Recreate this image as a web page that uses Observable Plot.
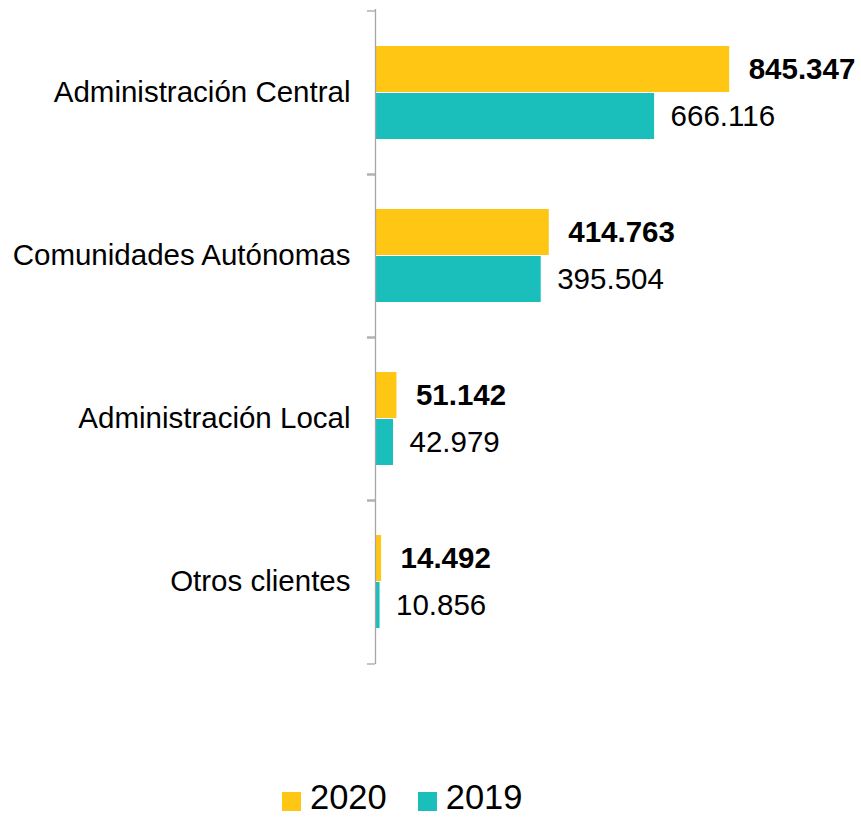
<!DOCTYPE html>
<html>
<head>
<meta charset="utf-8">
<script src="https://cdn.jsdelivr.net/npm/d3@7"></script>
<script src="https://cdn.jsdelivr.net/npm/@observablehq/plot@0.6"></script>
<style>
  html, body { margin: 0; padding: 0; background: #fff; }
  body { width: 861px; height: 817px; overflow: hidden; font-family: "Liberation Sans", Arial, sans-serif; }
  #legend { display: flex; align-items: center; margin-left: 282px; padding-top: 46px; font-size: 34.5px; line-height: 30px; color: #000; }
  .sw { width: 19px; height: 19px; display: inline-block; margin-right: 9px; }
  .item { display: flex; align-items: center; margin-right: 31px; }
  .lt { position: relative; top: -4px; }
</style>
</head>
<body>
<div id="chart"></div>
<div id="legend"></div>
<script>
const categories = ["Administración Central", "Comunidades Autónomas", "Administración Local", "Otros clientes"];
const values2020 = [845347, 414763, 51142, 14492];
const values2019 = [666116, 395504, 42979, 10856];
const seriesNames = ["2020", "2019"];
const seriesColors = ["#FFC614", "#1ABEBA"];

const locale = d3.formatLocale({decimal: ",", thousands: ".", grouping: [3], currency: ["", " €"]});
const fmt = locale.format(",d");

const rows2020 = categories.map((c, i) => ({cat: c, v: values2020[i]}));
const rows2019 = categories.map((c, i) => ({cat: c, v: values2019[i]}));

const chart = Plot.plot({
  width: 861,
  height: 740,
  marginTop: 9,
  marginBottom: 76,
  marginLeft: 375,
  marginRight: 67,
  style: {fontFamily: '"Liberation Sans", Arial, sans-serif', background: "#fff"},
  x: {domain: [0, 1000000], axis: null},
  y: {type: "band", domain: categories, padding: 0, label: null},
  marks: [
    Plot.barX(rows2020, {x: "v", y: "cat", fill: seriesColors[0], insetTop: 35, insetBottom: 82}),
    Plot.barX(rows2019, {x: "v", y: "cat", fill: seriesColors[1], insetTop: 82, insetBottom: 35}),
    Plot.ruleX([0], {stroke: "#A6A6A6", strokeWidth: 1.3}),
    Plot.axisY({tickSize: 8, text: null, dy: -82, stroke: "#A6A6A6", strokeWidth: 1.3}),
    Plot.axisY({tickSize: 8, text: null, dy: 82, stroke: "#A6A6A6", strokeWidth: 1.3}),
    Plot.axisY({tickSize: 0, tickPadding: 25, fontSize: 29.5, fill: "#000", label: null}),
    Plot.text(rows2020, {x: "v", y: "cat", text: d => fmt(d.v), dy: -23.5, dx: 19, textAnchor: "start", fontSize: 29.5, fontWeight: "bold", fill: "#000"}),
    Plot.text(rows2019, {x: "v", y: "cat", text: d => fmt(d.v), dy: 23.5, dx: 16, textAnchor: "start", fontSize: 29.5, fill: "#000"})
  ]
});
document.getElementById("chart").appendChild(chart);

const legend = document.getElementById("legend");
seriesNames.forEach((name, i) => {
  const item = document.createElement("div");
  item.className = "item";
  const sw = document.createElement("span");
  sw.className = "sw";
  sw.style.background = seriesColors[i];
  const t = document.createElement("span");
  t.className = "lt";
  t.textContent = name;
  item.appendChild(sw);
  item.appendChild(t);
  legend.appendChild(item);
});
</script>
</body>
</html>
